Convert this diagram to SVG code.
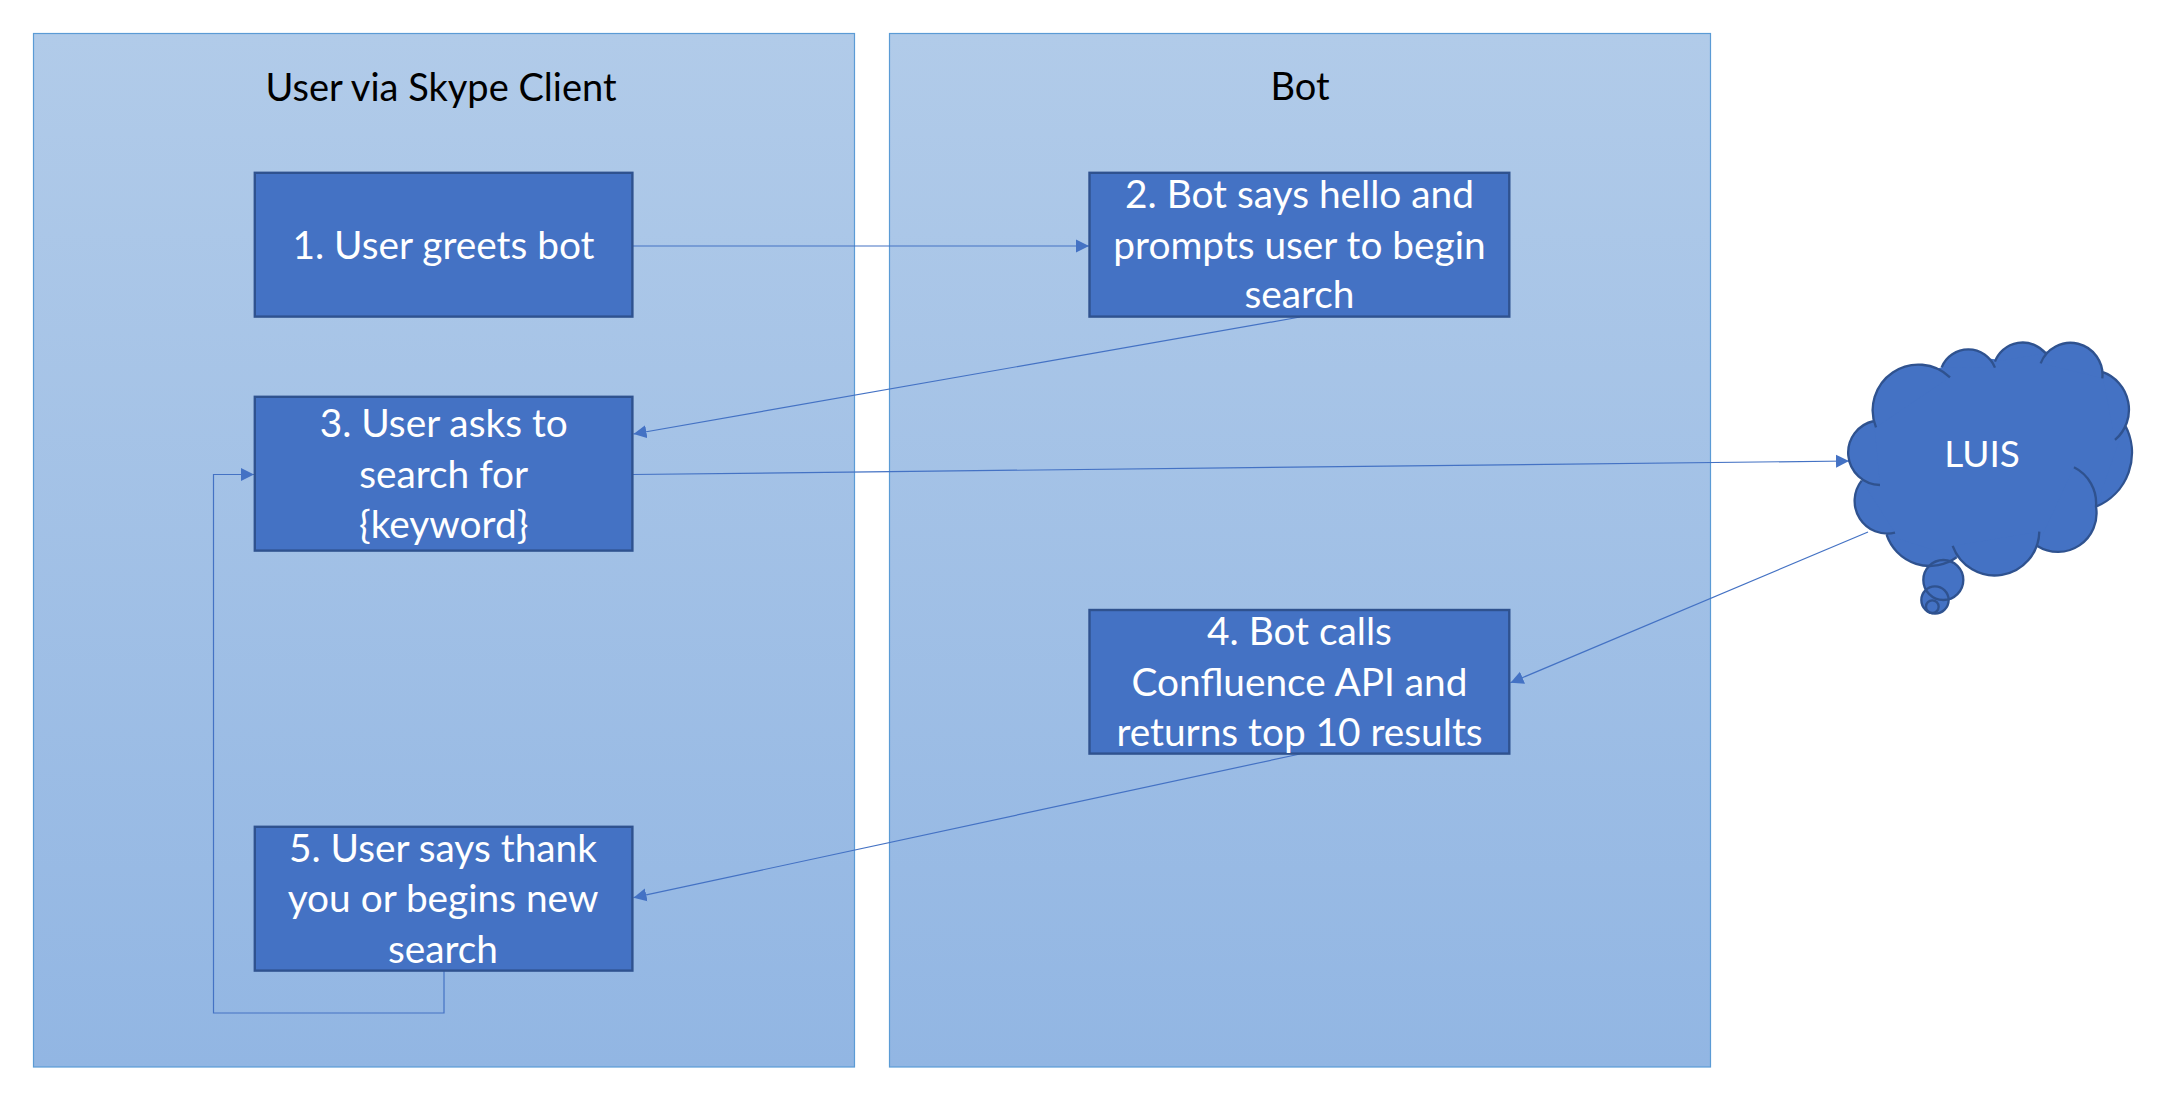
<svg xmlns="http://www.w3.org/2000/svg" width="2164" height="1114" viewBox="0 0 2164 1114">
<style>
text{font-family:"Lato","Noto Sans",sans-serif;text-anchor:middle}
.panel{fill:url(#pg);stroke:#5B9BD5;stroke-width:1.2}
.box{fill:#4472C4;stroke:#2F528F;stroke-width:2.4}
.w{fill:#fff;font-size:38.8px}
.l{fill:#fff;font-size:37px}
.k{fill:#000;font-size:38px}
.c{fill:none;stroke:#4472C4;stroke-width:1.2;marker-end:url(#ah)}
.cf{fill:#4472C4;stroke:none}
.cs{fill:none;stroke:#2F528F;stroke-width:7}
</style>
<defs>
<linearGradient id="pg" x1="0" y1="0" x2="0" y2="1"><stop offset="0" stop-color="#B1CBE9"/><stop offset="1" stop-color="#92B6E3"/></linearGradient>
<marker id="ah" markerUnits="userSpaceOnUse" markerWidth="14" markerHeight="14" refX="13" refY="7" orient="auto"><path d="M0,0.5L13,7L0,13.5Z" fill="#4472C4"/></marker>
</defs>
<rect width="2164" height="1114" fill="#fff"/>
<g id="panel-user"><rect class="panel" x="33.5" y="33.5" width="821" height="1033.5"/><text class="k" x="441" y="100.5">User via Skype Client</text></g>
<g id="panel-bot"><rect class="panel" x="889.5" y="33.5" width="821" height="1033.5"/><text class="k" x="1300" y="100">Bot</text></g>
<g id="connectors">
<path class="c" d="M632.5,246H1089"/>
<path class="c" d="M1300,317L633.5,434"/>
<path class="c" d="M632.5,474.5L1849,461"/>
<path class="c" d="M1868,532L1510.5,682.7"/>
<path class="c" d="M1300,754L633.5,897.7"/>
<path class="c" d="M444,971V1013H213.5V474.5H254"/>
</g>
<g id="node-1"><rect class="box" x="254.8" y="172.8" width="377.6" height="143.8"/><text class="w" x="443.5" y="258.8">1. User greets bot</text></g>
<g id="node-2"><rect class="box" x="1089.5" y="172.8" width="419.8" height="143.8"/><text class="w" x="1299.5" y="208.4">2. Bot says hello and</text><text class="w" x="1299.5" y="258.6">prompts user to begin</text><text class="w" x="1299.5" y="308.4">search</text></g>
<g id="node-3"><rect class="box" x="254.8" y="396.8" width="377.6" height="153.8"/><text class="w" x="443.7" y="437">3. User asks to</text><text class="w" x="443.7" y="487.6">search for</text><text class="w" x="443.7" y="537.6">{keyword}</text></g>
<g id="node-4"><rect class="box" x="1089.5" y="610" width="419.8" height="143.6"/><text class="w" x="1299.5" y="645.3">4. Bot calls</text><text class="w" x="1299.5" y="696">Confluence API and</text><text class="w" x="1299.5" y="746">returns top 10 results</text></g>
<g id="node-5"><rect class="box" x="254.8" y="826.8" width="377.6" height="143.8"/><text class="w" x="443" y="861.6">5. User says thank</text><text class="w" x="443" y="912.3">you or begins new</text><text class="w" x="443" y="962.6">search</text></g>
<g id="node-luis">
<g transform="translate(1800 320) scale(.3333)">
<path class="cf" d="M170,400L222,303L300,180L425,142L520,110L585,118L665,85L732,95L810,90L905,155L960,260L975,315L985,430L888,560L800,660L712,678L585,760L470,712L380,715L262,648L190,560L185,482Z"/>
<path class="cf" d="M240,495A97,97 0 0 1 222,303M228,322A137,137 0 0 1 450,172M425,142A86,86 0 0 1 585,143M585,125A89,89 0 0 1 737,100M722,130A96,96 0 0 1 907,175M905,155A120,120 0 0 1 945,360M975,315A175,175 0 0 1 888,560M822,442A120,120 0 0 1 888,560A116,116 0 0 1 712,678M718,635A134,134 0 0 1 458,678M470,712A137,137 0 0 1 260,645M285,638A98,98 0 0 1 185,482"/>
<circle class="cf" cx="430" cy="780" r="60"/><circle class="cf" cx="405" cy="840" r="41"/><circle class="cf" cx="397" cy="860" r="19"/>
<path class="cs" d="M240,495A97,97 0 0 1 222,303M228,322A137,137 0 0 1 450,172M425,142A86,86 0 0 1 585,143M585,125A89,89 0 0 1 737,100M722,130A96,96 0 0 1 907,175M905,155A120,120 0 0 1 945,360M975,315A175,175 0 0 1 888,560M822,442A120,120 0 0 1 888,560A116,116 0 0 1 712,678M718,635A134,134 0 0 1 458,678M470,712A137,137 0 0 1 260,645M285,638A98,98 0 0 1 185,482"/>
<circle class="cs" cx="430" cy="780" r="60"/><circle class="cs" cx="405" cy="840" r="41"/><circle class="cs" cx="397" cy="860" r="19"/>
</g>
<text class="l" x="1982" y="467.3">LUIS</text>
</g>
</svg>
